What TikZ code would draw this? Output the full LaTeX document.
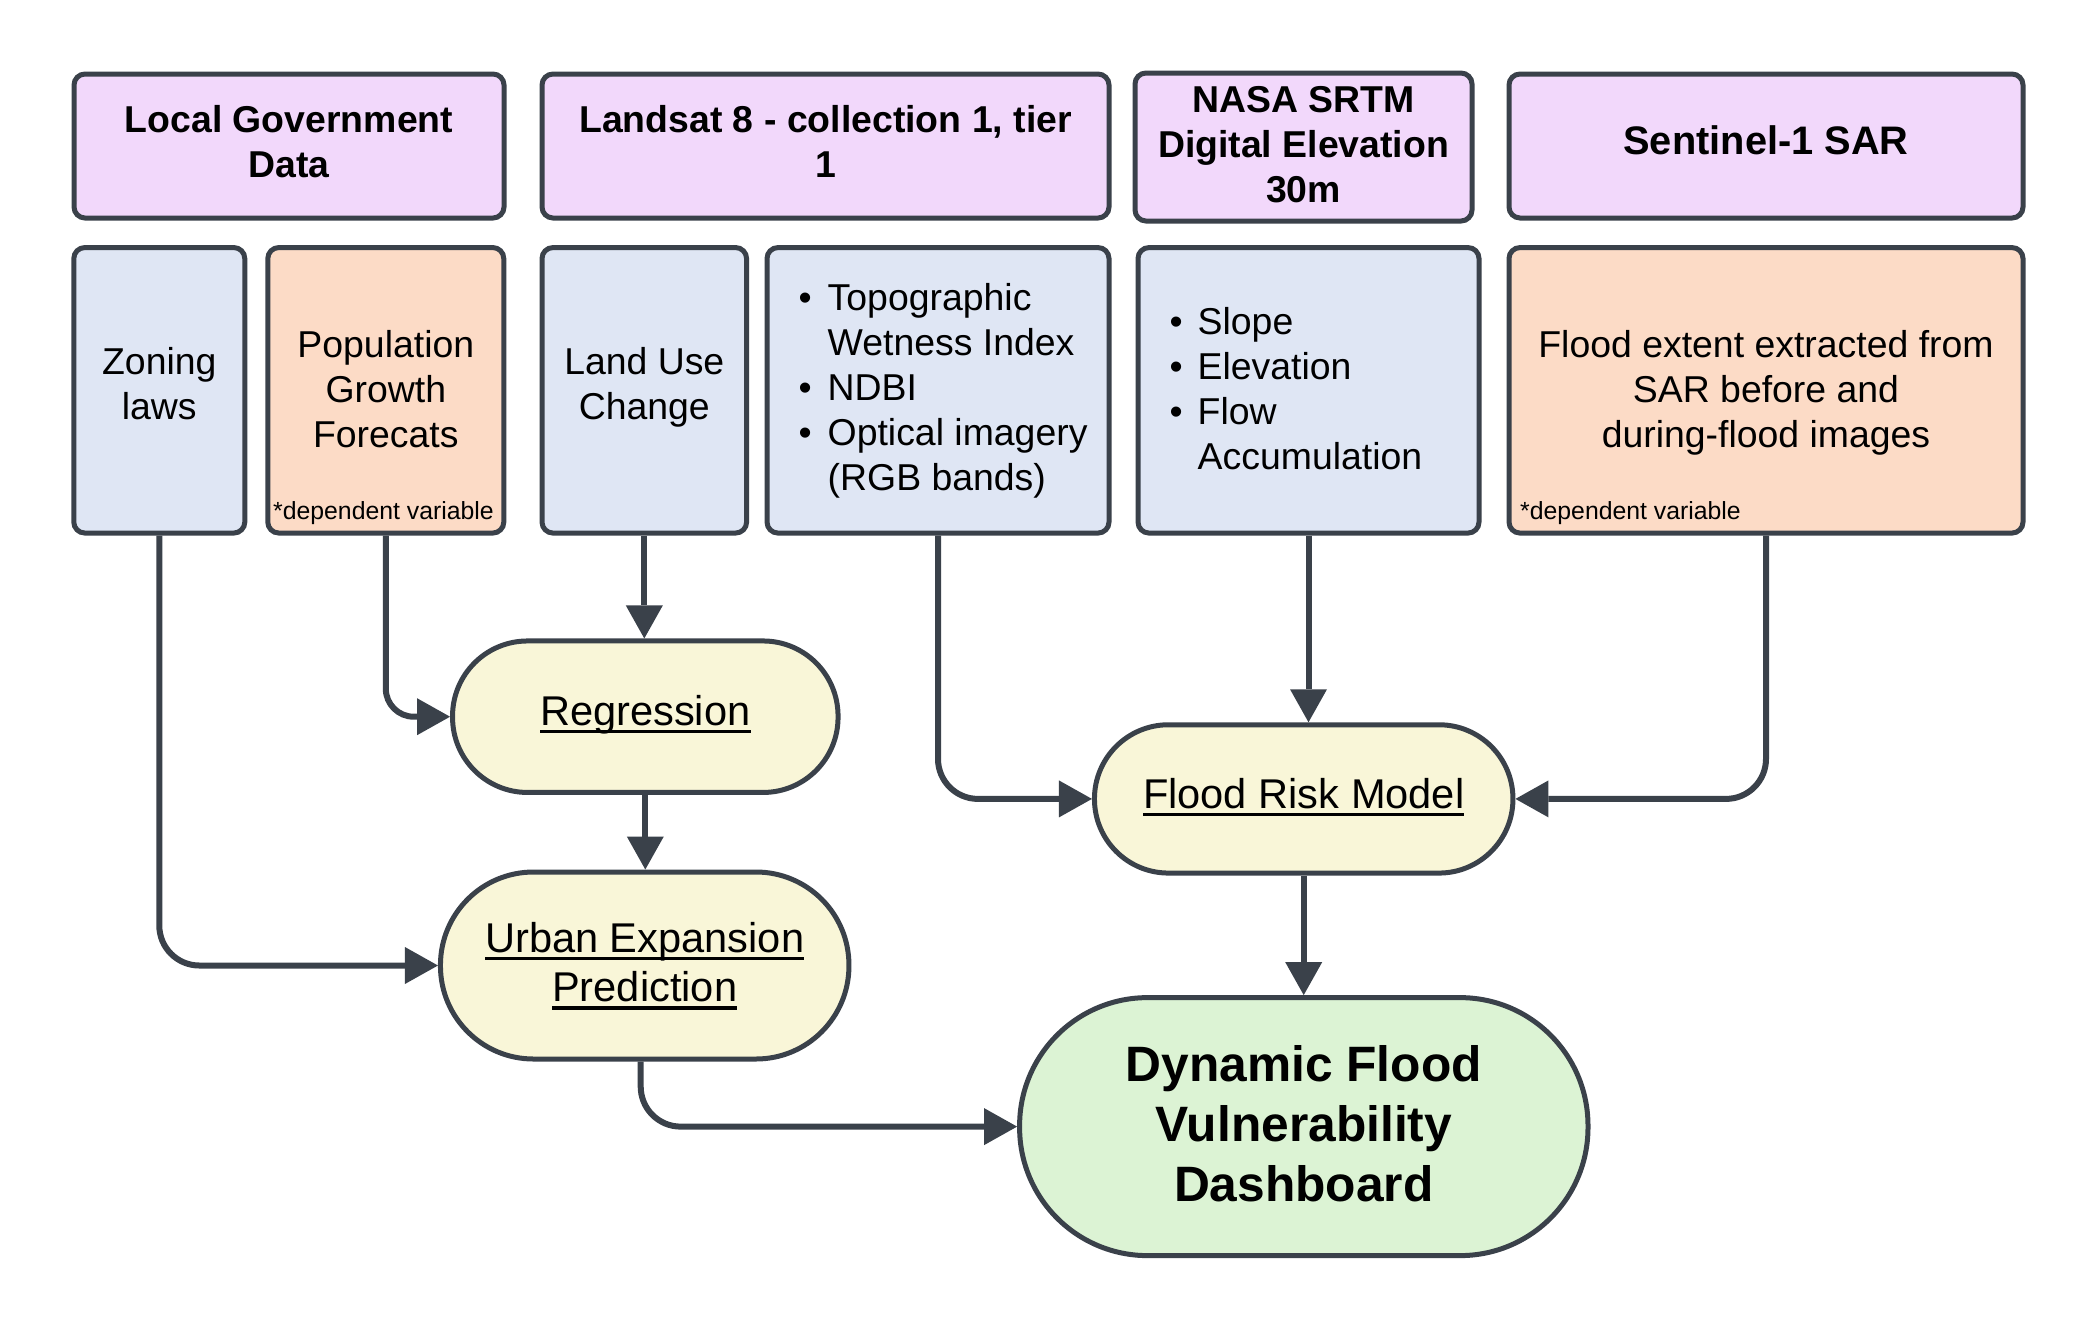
\documentclass[tikz,border=0pt]{standalone}
\usepackage{fontspec}
\setmainfont{Liberation Sans}
\usetikzlibrary{arrows.meta}
\definecolor{edge}{HTML}{3A414A}
\definecolor{lav}{HTML}{F2D8FB}
\definecolor{bluegr}{HTML}{DFE6F4}
\definecolor{peach}{HTML}{FCDBC6}
\definecolor{cream}{HTML}{F9F6D8}
\definecolor{mint}{HTML}{DCF3D4}
\newcommand\ulx[1]{\setbox0\hbox{#1}\rlap{\rule[-8pt]{\wd0}{3.5pt}}\box0}
\newcommand\bulA{\makebox[29pt][l]{\textbullet}}
\newcommand\indA{\hspace*{29pt}}
\newcommand\bulB{\makebox[28pt][l]{\textbullet}}
\newcommand\indB{\hspace*{28pt}}
\begin{document}
\begin{tikzpicture}[x=1pt,y=-1pt,
  box/.style={draw=edge,line width=5pt,rounded corners=11pt,inner sep=0pt},
  hdr/.style={box,fill=lav},
  inp/.style={box,fill=bluegr},
  dep/.style={box,fill=peach},
  proc/.style={draw=edge,line width=5pt,fill=cream,inner sep=0pt},
  fin/.style={draw=edge,line width=5pt,fill=mint,inner sep=0pt},
  txt/.style={inner sep=0pt,align=center,font=\fontsize{37.4}{45}\selectfont},
  htxt/.style={inner sep=0pt,align=center,font=\fontsize{37.4}{45}\selectfont\bfseries},
  small/.style={inner sep=0pt,font=\fontsize{24.8}{30}\selectfont},
  ptxt/.style={inner sep=0pt,align=center,font=\fontsize{41.6}{49.5}\selectfont},
  conn/.style={draw=edge,line width=6pt,rounded corners=40pt,
    -{Triangle[length=33pt,width=37pt,line width=0pt]}},
]
\useasboundingbox (0,0) rectangle (2098,1331);

% header row
\node[hdr,minimum width=430pt,minimum height=144pt] (lgd) at (289,146) {};
\node[hdr,minimum width=567pt,minimum height=144pt] (lsat) at (825.5,146) {};
\node[hdr,minimum width=337pt,minimum height=148pt] (nasa) at (1303.5,147) {};
\node[hdr,minimum width=514pt,minimum height=144pt] (sent) at (1766,146) {};
\node[htxt] (lgdt) at (289,141.3) {Local Government\\Data};
\node[htxt] (lsatt) at (825.5,141.3) {Landsat 8 - collection 1, tier\\1};
\node[htxt] (nasat) at (1303.5,144.7) {NASA SRTM\\Digital Elevation\\30m};
\node[htxt,font=\fontsize{39.8}{48}\selectfont\bfseries] (sentt) at (1766,140.5) {Sentinel-1 SAR};

% input row
\node[inp,minimum width=171pt,minimum height=285.5pt] (zon) at (159.3,390.3) {};
\node[dep,minimum width=236pt,minimum height=285.5pt] (pop) at (385.8,390.3) {};
\node[inp,minimum width=204.6pt,minimum height=285.5pt] (luc) at (644.3,390.3) {};
\node[inp,minimum width=342pt,minimum height=285.5pt] (topo) at (938,390.3) {};
\node[inp,minimum width=341pt,minimum height=285.5pt] (slope) at (1308.5,390.3) {};
\node[dep,minimum width=514pt,minimum height=285.5pt] (fext) at (1766,390.3) {};

\node[txt] (zont) at (159.3,383.3) {Zoning\\laws};
\node[txt] (popt) at (385.8,388.8) {Population\\Growth\\Forecats};
\node[small] (popd) at (383.5,513.5) {*dependent variable};
\node[txt] (luct) at (644.3,387.3) {Land Use\\Change};
\node[txt,align=left,anchor=west] (topot) at (798.5,390.5)
  {\bulA Topographic\\\indA Wetness Index\\\bulA NDBI\\\bulA Optical imagery\\\indA (RGB bands)};
\node[txt,align=left,anchor=west] (slopet) at (1169.5,388.3)
  {\bulB Slope\\\bulB Elevation\\\bulB Flow\\\indB Accumulation};
\node[txt] (fextt) at (1766,392.5) {Flood extent extracted from\\SAR before and\\during-flood images};
\node[small,anchor=west] (fextd) at (1520,513.5) {*dependent variable};

% process nodes
\node[proc,rounded corners=75pt,minimum width=385.5pt,minimum height=151.5pt] (reg) at (645.3,716.7) {};
\node[proc,rounded corners=93pt,minimum width=408.5pt,minimum height=187pt] (urb) at (644.7,965.5) {};
\node[proc,rounded corners=74pt,minimum width=418.5pt,minimum height=148.3pt] (frm) at (1303.7,798.9) {};
\node[fin,rounded corners=128pt,minimum width=568.4pt,minimum height=258pt] (dash) at (1303.8,1126.6) {};

\node[ptxt,anchor=base] (regt) at (645.3,725) {\ulx{Regression}};
\node[ptxt] (urbt) at (644.7,966.1) {\ulx{Urban Expansion}\\\ulx{Prediction}};
\node[ptxt,anchor=base] (frmt) at (1303.7,808) {\ulx{Flood Risk Model}};
\node[inner sep=0pt,align=center,font=\fontsize{49.7}{60.2}\selectfont\bfseries] (dasht) at (1303.8,1123.5)
  {Dynamic Flood\\Vulnerability\\Dashboard};

% connectors
\draw[conn] (zon.south) |- (urb.west);
\draw[conn,rounded corners=28pt] (pop.south) |- (reg.west);
\draw[conn] (luc.south) -- (luc.south |- reg.north);
\draw[conn] (reg.south) -- (reg.south |- urb.north);
\draw[conn] (topo.south) |- (frm.west);
\draw[conn] (slope.south) -- (slope.south |- frm.north);
\draw[conn] (fext.south) |- (frm.east);
\draw[conn] (frm.south) -- (frm.south |- dash.north);
\draw[conn] ([xshift=-4pt]urb.south) |- (dash.west);
\end{tikzpicture}
\end{document}
